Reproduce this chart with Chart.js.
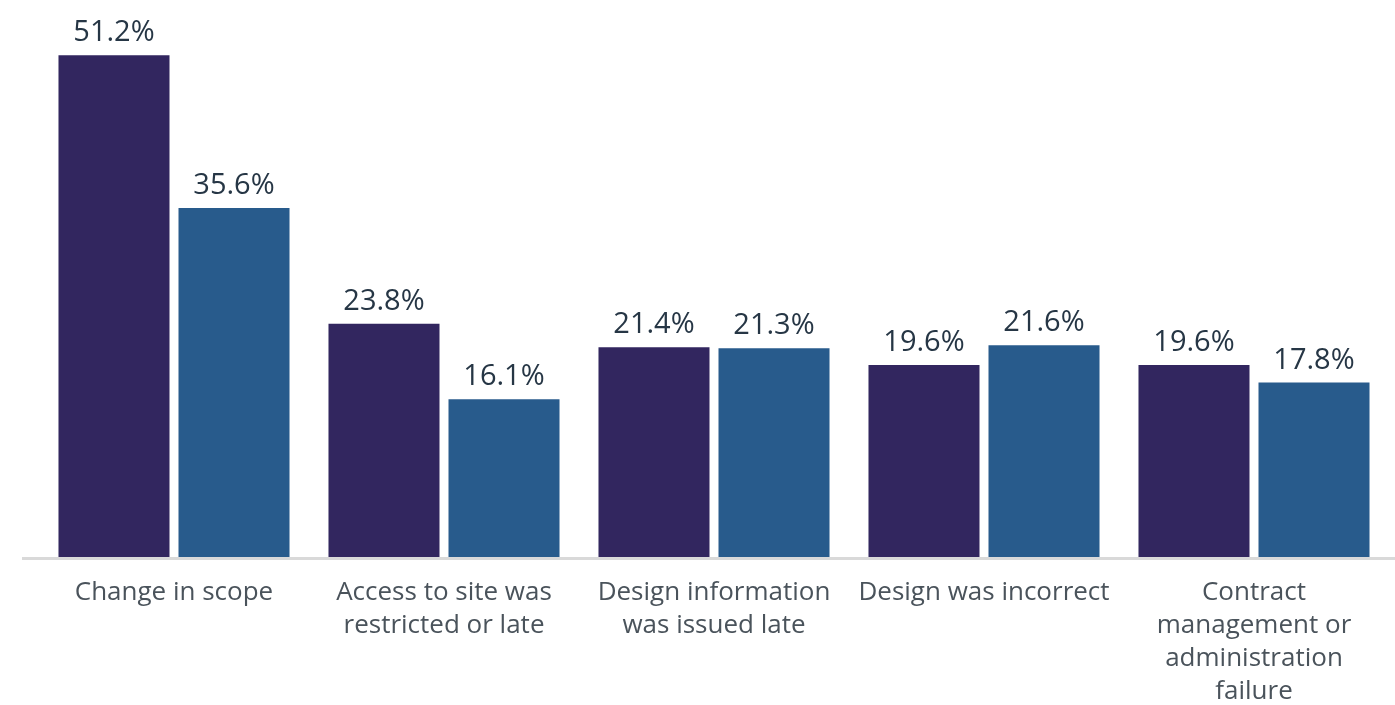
<!DOCTYPE html>
<html>
<head>
<meta charset="utf-8">
<script src="https://cdn.jsdelivr.net/npm/chart.js@4"></script>
<style>
  html, body { margin: 0; padding: 0; background: #fff; }
  #wrap { width: 1395px; height: 705px; }
</style>
</head>
<body>
<div id="wrap"><canvas id="chart"></canvas></div>
<script>
// Categories and series values (percent)
const categories = [
    ['Change in scope'],
    ['Access to site was', 'restricted or late'],
    ['Design information', 'was issued late'],
    ['Design was incorrect'],
    ['Contract', 'management or', 'administration', 'failure']
];
const seriesA = [51.2, 23.8, 21.4, 19.6, 19.6];
const seriesB = [35.6, 16.1, 21.3, 21.6, 17.8];

const FONT = '"Open Sans", sans-serif';

// Value labels above each bar
const valueLabels = {
    id: 'valueLabels',
    afterDatasetsDraw(chart) {
        const ctx = chart.ctx;
        ctx.save();
        ctx.font = '29px ' + FONT;
        ctx.fillStyle = '#263645';
        ctx.textAlign = 'center';
        ctx.textBaseline = 'alphabetic';
        chart.data.datasets.forEach((ds, i) => {
            chart.getDatasetMeta(i).data.forEach((bar, j) => {
                ctx.fillText(ds.data[j].toFixed(1) + '%', bar.x, bar.y - 14);
            });
        });
        ctx.restore();
    }
};

// Light grey baseline across the full width
const baseLine = {
    id: 'baseLine',
    afterDatasetsDraw(chart) {
        const ctx = chart.ctx;
        const y = chart.scales.y.getPixelForValue(0);
        ctx.save();
        ctx.strokeStyle = '#d9d9d9';
        ctx.lineWidth = 3;
        ctx.beginPath();
        ctx.moveTo(22, y + 1.5);
        ctx.lineTo(chart.width, y + 1.5);
        ctx.stroke();
        ctx.restore();
    }
};

new Chart(document.getElementById('chart'), {
    type: 'bar',
    data: {
        labels: categories,
        datasets: [{
            data: seriesA,
            backgroundColor: '#32265f',
            categoryPercentage: 0.889,
            barPercentage: 0.925
        }, {
            data: seriesB,
            backgroundColor: '#285b8c',
            categoryPercentage: 0.889,
            barPercentage: 0.925
        }]
    },
    options: {
        responsive: true,
        maintainAspectRatio: false,
        animation: false,
        layout: { padding: { left: 39, right: 6, top: 18, bottom: 0 } },
        plugins: {
            legend: { display: false },
            tooltip: { enabled: false }
        },
        scales: {
            x: {
                grid: { display: false, drawTicks: false },
                border: { display: false },
                afterFit(scale) { scale.height = 148; },
                ticks: {
                    color: '#4a535b',
                    font: { family: FONT, size: 26, lineHeight: 1.27 },
                    padding: 19,
                    maxRotation: 0,
                    autoSkip: false
                }
            },
            y: {
                display: false,
                min: 0,
                max: 55
            }
        }
    },
    plugins: [valueLabels, baseLine]
});
</script>
</body>
</html>
